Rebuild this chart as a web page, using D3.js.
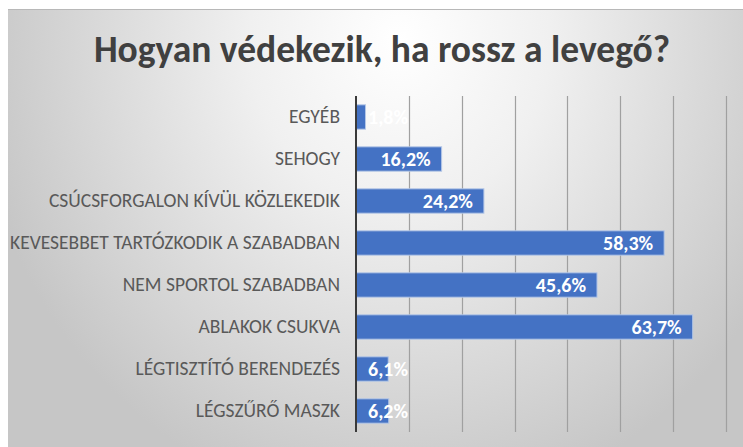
<!DOCTYPE html>
<html>
<head>
<meta charset="utf-8">
<script src="https://cdn.jsdelivr.net/npm/d3@7"></script>
<style>
  body { margin: 0; background: #fff; }
  svg { display: block; }
</style>
</head>
<body>
<svg id="chart" width="743" height="447"></svg>
<script>
const categories = [
  "EGYÉB",
  "SEHOGY",
  "CSÚCSFORGALON KÍVÜL KÖZLEKEDIK",
  "KEVESEBBET TARTÓZKODIK A SZABADBAN",
  "NEM SPORTOL SZABADBAN",
  "ABLAKOK CSUKVA",
  "LÉGTISZTÍTÓ BERENDEZÉS",
  "LÉGSZŰRŐ MASZK"
];
const values = [1.8, 16.2, 24.2, 58.3, 45.6, 63.7, 6.1, 6.2];
const gridTicks = [0, 10, 20, 30, 40, 50, 60, 70];
const title = "Hogyan védekezik, ha rossz a levegő?";

const fontFamily = "Carlito, Lato, 'Open Sans', sans-serif";
const width = 743, height = 447;

const svg = d3.select("#chart");

// background like the slide: grey edges, lighter towards the top centre
const defs = svg.append("defs");
const grad = defs.append("radialGradient")
    .attr("id", "bg")
    .attr("gradientUnits", "userSpaceOnUse")
    .attr("cx", 400).attr("cy", 40).attr("r", 430)
    .attr("gradientTransform", "translate(400,40) scale(1,1.1) translate(-400,-40)");
grad.append("stop").attr("offset", "0").attr("stop-color", "#ffffff");
grad.append("stop").attr("offset", "0.35").attr("stop-color", "#f0f0f0");
grad.append("stop").attr("offset", "1").attr("stop-color", "#c6c6c6");

svg.append("rect")
    .attr("x", 8).attr("y", 9)
    .attr("width", width - 8).attr("height", height - 9)
    .attr("fill", "url(#bg)");
svg.append("line")
    .attr("x1", 8).attr("x2", width)
    .attr("y1", 9.5).attr("y2", 9.5)
    .attr("stroke", "#b8b8b8");

const x = d3.scaleLinear().domain([0, 70]).range([356, 726]);
const y = d3.scaleBand().domain(categories).range([96, 432]).paddingInner(0.42).paddingOuter(0.21);

// title
svg.append("text")
    .attr("x", 382).attr("y", 62)
    .attr("text-anchor", "middle")
    .attr("font-family", fontFamily)
    .attr("font-weight", "bold")
    .attr("font-size", 37.5)
    .attr("fill", "#404040")
    .text(title);

// vertical gridlines
svg.append("g")
  .selectAll("line")
  .data(gridTicks.slice(1))
  .join("line")
    .attr("x1", d => Math.round(x(d)) + 0.5)
    .attr("x2", d => Math.round(x(d)) + 0.5)
    .attr("y1", 96).attr("y2", 432)
    .attr("stroke", "#a0a0a0")
    .attr("stroke-width", 1.2);

// bars
svg.append("g")
  .selectAll("rect")
  .data(values)
  .join("rect")
    .attr("x", x(0))
    .attr("y", (d, i) => y(categories[i]))
    .attr("width", d => x(d) - x(0))
    .attr("height", y.bandwidth())
    .attr("fill", "#4472c4")
    .attr("stroke", "#b4c7e7")
    .attr("stroke-width", 1);

// category axis
const yAxis = svg.append("g")
    .attr("transform", `translate(${x(0)},0)`)
    .call(d3.axisLeft(y).tickSize(0).tickPadding(16));
yAxis.select(".domain")
    .attr("d", `M0,96V432`)
    .attr("stroke", "#3a3a3a")
    .attr("stroke-width", 2);
yAxis.selectAll("text")
    .attr("font-family", fontFamily)
    .attr("font-size", 19.5)
    .attr("fill", "#595959");

// value labels
const fmt = v => d3.format(".1f")(v).replace(".", ",") + "%";
svg.append("g")
  .selectAll("text")
  .data(values)
  .join("text")
    .attr("y", (d, i) => y(categories[i]) + y.bandwidth() / 2)
    .attr("dy", "0.35em")
    .attr("text-anchor", "end")
    .attr("font-family", fontFamily)
    .attr("font-weight", "bold")
    .attr("font-size", 20)
    .attr("fill", "#ffffff")
    .text(fmt)
    .attr("x", function(d) {
      const w = this.getComputedTextLength();
      return Math.max(x(d) - 11, x(0) + 12 + w);
    });
</script>
</body>
</html>
